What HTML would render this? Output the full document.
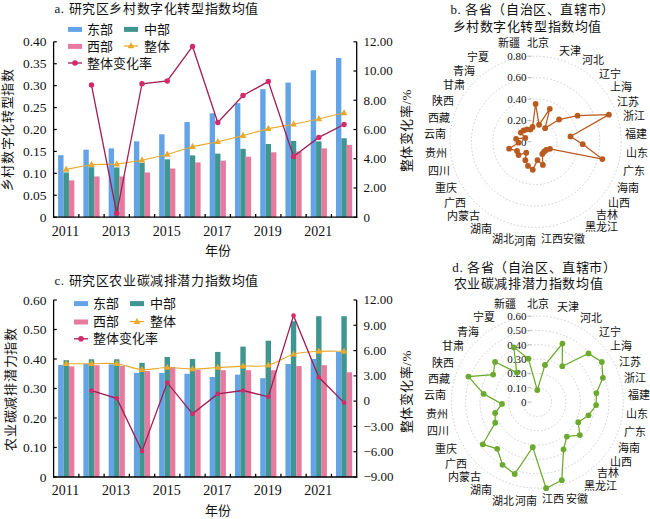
<!DOCTYPE html>
<html lang="zh-CN"><head><meta charset="utf-8"><style>
html,body{margin:0;padding:0;background:#fff;}
body{width:650px;height:519px;overflow:hidden;}
svg{display:block;}
text{font-family:"Liberation Serif",serif;fill:#111;}
</style></head><body>
<svg width="650" height="519" viewBox="0 0 650 519">
<rect x="58.13" y="155.15" width="5.40" height="62.05" fill="#63A3E6"/>
<rect x="63.53" y="172.47" width="5.40" height="44.73" fill="#3F958F"/>
<rect x="68.93" y="180.37" width="5.40" height="36.83" fill="#E67A9F"/>
<rect x="83.39" y="149.67" width="5.40" height="67.53" fill="#63A3E6"/>
<rect x="88.79" y="167.21" width="5.40" height="49.99" fill="#3F958F"/>
<rect x="94.19" y="176.42" width="5.40" height="40.78" fill="#E67A9F"/>
<rect x="108.65" y="148.36" width="5.40" height="68.84" fill="#63A3E6"/>
<rect x="114.05" y="167.43" width="5.40" height="49.77" fill="#3F958F"/>
<rect x="119.45" y="176.42" width="5.40" height="40.78" fill="#E67A9F"/>
<rect x="133.90" y="141.34" width="5.40" height="75.86" fill="#63A3E6"/>
<rect x="139.30" y="162.83" width="5.40" height="54.37" fill="#3F958F"/>
<rect x="144.70" y="172.47" width="5.40" height="44.73" fill="#E67A9F"/>
<rect x="159.16" y="134.32" width="5.40" height="82.88" fill="#63A3E6"/>
<rect x="164.56" y="159.32" width="5.40" height="57.88" fill="#3F958F"/>
<rect x="169.96" y="168.53" width="5.40" height="48.67" fill="#E67A9F"/>
<rect x="184.42" y="122.05" width="5.40" height="95.15" fill="#63A3E6"/>
<rect x="189.82" y="155.37" width="5.40" height="61.83" fill="#3F958F"/>
<rect x="195.22" y="162.39" width="5.40" height="54.81" fill="#E67A9F"/>
<rect x="209.68" y="113.28" width="5.40" height="103.92" fill="#63A3E6"/>
<rect x="215.08" y="153.62" width="5.40" height="63.58" fill="#3F958F"/>
<rect x="220.48" y="160.63" width="5.40" height="56.57" fill="#E67A9F"/>
<rect x="234.94" y="103.19" width="5.40" height="114.01" fill="#63A3E6"/>
<rect x="240.34" y="148.79" width="5.40" height="68.41" fill="#3F958F"/>
<rect x="245.74" y="156.69" width="5.40" height="60.51" fill="#E67A9F"/>
<rect x="260.20" y="89.16" width="5.40" height="128.04" fill="#63A3E6"/>
<rect x="265.60" y="143.97" width="5.40" height="73.23" fill="#3F958F"/>
<rect x="271.00" y="152.30" width="5.40" height="64.90" fill="#E67A9F"/>
<rect x="285.45" y="82.58" width="5.40" height="134.62" fill="#63A3E6"/>
<rect x="290.85" y="140.90" width="5.40" height="76.30" fill="#3F958F"/>
<rect x="296.25" y="151.43" width="5.40" height="65.77" fill="#E67A9F"/>
<rect x="310.71" y="70.30" width="5.40" height="146.90" fill="#63A3E6"/>
<rect x="316.11" y="141.34" width="5.40" height="75.86" fill="#3F958F"/>
<rect x="321.51" y="148.36" width="5.40" height="68.84" fill="#E67A9F"/>
<rect x="335.97" y="58.02" width="5.40" height="159.18" fill="#63A3E6"/>
<rect x="341.37" y="138.27" width="5.40" height="78.93" fill="#3F958F"/>
<rect x="346.77" y="144.85" width="5.40" height="72.35" fill="#E67A9F"/>
<line x1="53.60" y1="41.80" x2="53.60" y2="217.80" stroke="#000" stroke-width="1.3" />
<line x1="356.70" y1="41.80" x2="356.70" y2="217.80" stroke="#000" stroke-width="1.3" />
<line x1="53.00" y1="217.20" x2="357.30" y2="217.20" stroke="#000" stroke-width="1.3" />
<line x1="53.60" y1="41.80" x2="56.80" y2="41.80" stroke="#000" stroke-width="1.2" />
<text x="46.6" y="46.4" font-size="13.5" text-anchor="end" >0.40</text>
<line x1="53.60" y1="63.73" x2="56.80" y2="63.73" stroke="#000" stroke-width="1.2" />
<text x="46.6" y="68.3" font-size="13.5" text-anchor="end" >0.35</text>
<line x1="53.60" y1="85.65" x2="56.80" y2="85.65" stroke="#000" stroke-width="1.2" />
<text x="46.6" y="90.3" font-size="13.5" text-anchor="end" >0.30</text>
<line x1="53.60" y1="107.58" x2="56.80" y2="107.58" stroke="#000" stroke-width="1.2" />
<text x="46.6" y="112.2" font-size="13.5" text-anchor="end" >0.25</text>
<line x1="53.60" y1="129.50" x2="56.80" y2="129.50" stroke="#000" stroke-width="1.2" />
<text x="46.6" y="134.1" font-size="13.5" text-anchor="end" >0.20</text>
<line x1="53.60" y1="151.43" x2="56.80" y2="151.43" stroke="#000" stroke-width="1.2" />
<text x="46.6" y="156.0" font-size="13.5" text-anchor="end" >0.15</text>
<line x1="53.60" y1="173.35" x2="56.80" y2="173.35" stroke="#000" stroke-width="1.2" />
<text x="46.6" y="177.9" font-size="13.5" text-anchor="end" >0.10</text>
<line x1="53.60" y1="195.27" x2="56.80" y2="195.27" stroke="#000" stroke-width="1.2" />
<text x="46.6" y="199.9" font-size="13.5" text-anchor="end" >0.05</text>
<line x1="53.60" y1="217.20" x2="56.80" y2="217.20" stroke="#000" stroke-width="1.2" />
<text x="46.6" y="221.8" font-size="13.5" text-anchor="end" >0</text>
<line x1="353.50" y1="41.80" x2="356.70" y2="41.80" stroke="#000" stroke-width="1.2" />
<text x="363.5" y="46.1" font-size="13" text-anchor="start" >12.00</text>
<line x1="353.50" y1="71.03" x2="356.70" y2="71.03" stroke="#000" stroke-width="1.2" />
<text x="363.5" y="75.3" font-size="13" text-anchor="start" >10.00</text>
<line x1="353.50" y1="100.27" x2="356.70" y2="100.27" stroke="#000" stroke-width="1.2" />
<text x="363.5" y="104.6" font-size="13" text-anchor="start" >8.00</text>
<line x1="353.50" y1="129.50" x2="356.70" y2="129.50" stroke="#000" stroke-width="1.2" />
<text x="363.5" y="133.8" font-size="13" text-anchor="start" >6.00</text>
<line x1="353.50" y1="158.73" x2="356.70" y2="158.73" stroke="#000" stroke-width="1.2" />
<text x="363.5" y="163.0" font-size="13" text-anchor="start" >4.00</text>
<line x1="353.50" y1="187.97" x2="356.70" y2="187.97" stroke="#000" stroke-width="1.2" />
<text x="363.5" y="192.3" font-size="13" text-anchor="start" >2.00</text>
<line x1="353.50" y1="217.20" x2="356.70" y2="217.20" stroke="#000" stroke-width="1.2" />
<text x="363.5" y="221.5" font-size="13" text-anchor="start" >0</text>
<line x1="78.86" y1="214.00" x2="78.86" y2="217.20" stroke="#000" stroke-width="1.3" />
<line x1="104.12" y1="214.00" x2="104.12" y2="217.20" stroke="#000" stroke-width="1.3" />
<line x1="129.38" y1="214.00" x2="129.38" y2="217.20" stroke="#000" stroke-width="1.3" />
<line x1="154.63" y1="214.00" x2="154.63" y2="217.20" stroke="#000" stroke-width="1.3" />
<line x1="179.89" y1="214.00" x2="179.89" y2="217.20" stroke="#000" stroke-width="1.3" />
<line x1="205.15" y1="214.00" x2="205.15" y2="217.20" stroke="#000" stroke-width="1.3" />
<line x1="230.41" y1="214.00" x2="230.41" y2="217.20" stroke="#000" stroke-width="1.3" />
<line x1="255.67" y1="214.00" x2="255.67" y2="217.20" stroke="#000" stroke-width="1.3" />
<line x1="280.92" y1="214.00" x2="280.92" y2="217.20" stroke="#000" stroke-width="1.3" />
<line x1="306.18" y1="214.00" x2="306.18" y2="217.20" stroke="#000" stroke-width="1.3" />
<line x1="331.44" y1="214.00" x2="331.44" y2="217.20" stroke="#000" stroke-width="1.3" />
<text x="65.6" y="235.5" font-size="14" text-anchor="middle" >2011</text>
<text x="116.1" y="235.5" font-size="14" text-anchor="middle" >2013</text>
<text x="166.7" y="235.5" font-size="14" text-anchor="middle" >2015</text>
<text x="217.2" y="235.5" font-size="14" text-anchor="middle" >2017</text>
<text x="267.7" y="235.5" font-size="14" text-anchor="middle" >2019</text>
<text x="318.2" y="235.5" font-size="14" text-anchor="middle" >2021</text>
<text x="217.7" y="255.0" font-size="13" text-anchor="middle" >年份</text>
<polyline points="66.23,169.40 91.49,164.58 116.75,164.14 142.00,160.19 167.26,154.49 192.52,146.60 217.78,141.78 243.04,135.64 268.30,128.62 293.55,124.24 318.81,118.98 344.07,112.84" fill="none" stroke="#E9AA2B" stroke-width="1.1"/>
<path d="M62.93,171.70 L69.53,171.70 L66.23,165.50 Z" fill="#E9AA2B"/>
<path d="M88.19,166.88 L94.79,166.88 L91.49,160.68 Z" fill="#E9AA2B"/>
<path d="M113.45,166.44 L120.05,166.44 L116.75,160.24 Z" fill="#E9AA2B"/>
<path d="M138.70,162.50 L145.30,162.50 L142.00,156.29 Z" fill="#E9AA2B"/>
<path d="M163.96,156.79 L170.56,156.79 L167.26,150.59 Z" fill="#E9AA2B"/>
<path d="M189.22,148.90 L195.82,148.90 L192.52,142.70 Z" fill="#E9AA2B"/>
<path d="M214.48,144.08 L221.08,144.08 L217.78,137.88 Z" fill="#E9AA2B"/>
<path d="M239.74,137.94 L246.34,137.94 L243.04,131.74 Z" fill="#E9AA2B"/>
<path d="M265.00,130.92 L271.60,130.92 L268.30,124.72 Z" fill="#E9AA2B"/>
<path d="M290.25,126.54 L296.85,126.54 L293.55,120.34 Z" fill="#E9AA2B"/>
<path d="M315.51,121.28 L322.11,121.28 L318.81,115.08 Z" fill="#E9AA2B"/>
<path d="M340.77,115.14 L347.37,115.14 L344.07,108.94 Z" fill="#E9AA2B"/>
<polyline points="91.49,85.07 116.75,213.25 142.00,83.75 167.26,80.97 192.52,46.48 217.78,122.48 243.04,95.44 268.30,81.56 293.55,156.54 318.81,137.39 344.07,124.53" fill="none" stroke="#A01E55" stroke-width="1.3"/>
<circle cx="91.49" cy="85.07" r="2.7" fill="#D42A6A"/>
<circle cx="116.75" cy="213.25" r="2.7" fill="#D42A6A"/>
<circle cx="142.00" cy="83.75" r="2.7" fill="#D42A6A"/>
<circle cx="167.26" cy="80.97" r="2.7" fill="#D42A6A"/>
<circle cx="192.52" cy="46.48" r="2.7" fill="#D42A6A"/>
<circle cx="217.78" cy="122.48" r="2.7" fill="#D42A6A"/>
<circle cx="243.04" cy="95.44" r="2.7" fill="#D42A6A"/>
<circle cx="268.30" cy="81.56" r="2.7" fill="#D42A6A"/>
<circle cx="293.55" cy="156.54" r="2.7" fill="#D42A6A"/>
<circle cx="318.81" cy="137.39" r="2.7" fill="#D42A6A"/>
<circle cx="344.07" cy="124.53" r="2.7" fill="#D42A6A"/>
<text x="54.5" y="13.0" font-size="13" text-anchor="start" letter-spacing="0.6">a. 研究区乡村数字化转型指数均值</text>
<rect x="68.00" y="26.90" width="14.00" height="5.00" fill="#63A3E6"/>
<text x="87.0" y="33.5" font-size="13" text-anchor="start" >东部</text>
<rect x="124.00" y="26.90" width="14.00" height="5.00" fill="#3F958F"/>
<text x="144.0" y="33.5" font-size="13" text-anchor="start" >中部</text>
<rect x="68.00" y="43.90" width="14.00" height="5.00" fill="#E67A9F"/>
<text x="87.0" y="50.5" font-size="13" text-anchor="start" >西部</text>
<line x1="124.00" y1="46.00" x2="138.00" y2="46.00" stroke="#E9AA2B" stroke-width="1.3" />
<path d="M127.70,48.30 L134.30,48.30 L131.00,42.10 Z" fill="#E9AA2B"/>
<text x="144.0" y="50.5" font-size="13" text-anchor="start" >整体</text>
<line x1="68.00" y1="63.00" x2="82.00" y2="63.00" stroke="#A01E55" stroke-width="1.3" />
<circle cx="75.00" cy="63.00" r="2.8" fill="#D42A6A"/>
<text x="87.0" y="67.5" font-size="13" text-anchor="start" >整体变化率</text>
<text x="0" y="0" font-size="13" letter-spacing="0.7" text-anchor="middle" transform="translate(11.7,129.8) rotate(-90)">乡村数字化转型指数</text>
<text x="0" y="0" font-size="13" letter-spacing="0.5" text-anchor="middle" transform="translate(411,130.6) rotate(-90)">整体变化率/%</text>
<rect x="58.13" y="364.90" width="5.40" height="112.10" fill="#63A3E6"/>
<rect x="63.53" y="360.18" width="5.40" height="116.82" fill="#3F958F"/>
<rect x="68.93" y="366.38" width="5.40" height="110.62" fill="#E67A9F"/>
<rect x="83.39" y="363.72" width="5.40" height="113.28" fill="#63A3E6"/>
<rect x="88.79" y="359.29" width="5.40" height="117.71" fill="#3F958F"/>
<rect x="94.19" y="365.19" width="5.40" height="111.81" fill="#E67A9F"/>
<rect x="108.65" y="364.31" width="5.40" height="112.69" fill="#63A3E6"/>
<rect x="114.05" y="359.29" width="5.40" height="117.71" fill="#3F958F"/>
<rect x="119.45" y="365.78" width="5.40" height="111.22" fill="#E67A9F"/>
<rect x="133.90" y="372.87" width="5.40" height="104.13" fill="#63A3E6"/>
<rect x="139.30" y="362.83" width="5.40" height="114.17" fill="#3F958F"/>
<rect x="144.70" y="371.09" width="5.40" height="105.91" fill="#E67A9F"/>
<rect x="159.16" y="372.87" width="5.40" height="104.13" fill="#63A3E6"/>
<rect x="164.56" y="356.94" width="5.40" height="120.06" fill="#3F958F"/>
<rect x="169.96" y="366.96" width="5.40" height="110.04" fill="#E67A9F"/>
<rect x="184.42" y="373.75" width="5.40" height="103.25" fill="#63A3E6"/>
<rect x="189.82" y="359.00" width="5.40" height="118.00" fill="#3F958F"/>
<rect x="195.22" y="369.62" width="5.40" height="107.38" fill="#E67A9F"/>
<rect x="209.68" y="377.00" width="5.40" height="100.00" fill="#63A3E6"/>
<rect x="215.08" y="351.92" width="5.40" height="125.08" fill="#3F958F"/>
<rect x="220.48" y="370.21" width="5.40" height="106.79" fill="#E67A9F"/>
<rect x="234.94" y="374.63" width="5.40" height="102.37" fill="#63A3E6"/>
<rect x="240.34" y="346.61" width="5.40" height="130.39" fill="#3F958F"/>
<rect x="245.74" y="370.21" width="5.40" height="106.79" fill="#E67A9F"/>
<rect x="260.20" y="378.18" width="5.40" height="98.82" fill="#63A3E6"/>
<rect x="265.60" y="340.71" width="5.40" height="136.29" fill="#3F958F"/>
<rect x="271.00" y="370.21" width="5.40" height="106.79" fill="#E67A9F"/>
<rect x="285.45" y="364.01" width="5.40" height="112.99" fill="#63A3E6"/>
<rect x="290.85" y="321.24" width="5.40" height="155.76" fill="#3F958F"/>
<rect x="296.25" y="366.08" width="5.40" height="110.92" fill="#E67A9F"/>
<rect x="310.71" y="359.00" width="5.40" height="118.00" fill="#63A3E6"/>
<rect x="316.11" y="316.23" width="5.40" height="160.77" fill="#3F958F"/>
<rect x="321.51" y="365.19" width="5.40" height="111.81" fill="#E67A9F"/>
<rect x="335.97" y="351.92" width="5.40" height="125.08" fill="#63A3E6"/>
<rect x="341.37" y="316.23" width="5.40" height="160.77" fill="#3F958F"/>
<rect x="346.77" y="372.27" width="5.40" height="104.73" fill="#E67A9F"/>
<line x1="53.60" y1="300.00" x2="53.60" y2="477.60" stroke="#000" stroke-width="1.3" />
<line x1="356.70" y1="300.00" x2="356.70" y2="477.60" stroke="#000" stroke-width="1.3" />
<line x1="53.00" y1="477.00" x2="357.30" y2="477.00" stroke="#000" stroke-width="1.3" />
<line x1="53.60" y1="300.00" x2="56.80" y2="300.00" stroke="#000" stroke-width="1.2" />
<text x="46.6" y="304.6" font-size="13.5" text-anchor="end" >0.60</text>
<line x1="53.60" y1="329.50" x2="56.80" y2="329.50" stroke="#000" stroke-width="1.2" />
<text x="46.6" y="334.1" font-size="13.5" text-anchor="end" >0.50</text>
<line x1="53.60" y1="359.00" x2="56.80" y2="359.00" stroke="#000" stroke-width="1.2" />
<text x="46.6" y="363.6" font-size="13.5" text-anchor="end" >0.40</text>
<line x1="53.60" y1="388.50" x2="56.80" y2="388.50" stroke="#000" stroke-width="1.2" />
<text x="46.6" y="393.1" font-size="13.5" text-anchor="end" >0.30</text>
<line x1="53.60" y1="418.00" x2="56.80" y2="418.00" stroke="#000" stroke-width="1.2" />
<text x="46.6" y="422.6" font-size="13.5" text-anchor="end" >0.20</text>
<line x1="53.60" y1="447.50" x2="56.80" y2="447.50" stroke="#000" stroke-width="1.2" />
<text x="46.6" y="452.1" font-size="13.5" text-anchor="end" >0.10</text>
<line x1="53.60" y1="477.00" x2="56.80" y2="477.00" stroke="#000" stroke-width="1.2" />
<text x="46.6" y="481.6" font-size="13.5" text-anchor="end" >0</text>
<line x1="353.50" y1="300.00" x2="356.70" y2="300.00" stroke="#000" stroke-width="1.2" />
<text x="363.5" y="304.3" font-size="13" text-anchor="start" >12.00</text>
<line x1="353.50" y1="325.29" x2="356.70" y2="325.29" stroke="#000" stroke-width="1.2" />
<text x="363.5" y="329.6" font-size="13" text-anchor="start" >9.00</text>
<line x1="353.50" y1="350.57" x2="356.70" y2="350.57" stroke="#000" stroke-width="1.2" />
<text x="363.5" y="354.9" font-size="13" text-anchor="start" >6.00</text>
<line x1="353.50" y1="375.86" x2="356.70" y2="375.86" stroke="#000" stroke-width="1.2" />
<text x="363.5" y="380.2" font-size="13" text-anchor="start" >3.00</text>
<line x1="353.50" y1="401.14" x2="356.70" y2="401.14" stroke="#000" stroke-width="1.2" />
<text x="363.5" y="405.4" font-size="13" text-anchor="start" >0</text>
<line x1="353.50" y1="426.43" x2="356.70" y2="426.43" stroke="#000" stroke-width="1.2" />
<text x="363.5" y="430.7" font-size="13" text-anchor="start" >−3.00</text>
<line x1="353.50" y1="451.71" x2="356.70" y2="451.71" stroke="#000" stroke-width="1.2" />
<text x="363.5" y="456.0" font-size="13" text-anchor="start" >−6.00</text>
<line x1="353.50" y1="477.00" x2="356.70" y2="477.00" stroke="#000" stroke-width="1.2" />
<text x="363.5" y="481.3" font-size="13" text-anchor="start" >−9.00</text>
<line x1="78.86" y1="473.80" x2="78.86" y2="477.00" stroke="#000" stroke-width="1.3" />
<line x1="104.12" y1="473.80" x2="104.12" y2="477.00" stroke="#000" stroke-width="1.3" />
<line x1="129.38" y1="473.80" x2="129.38" y2="477.00" stroke="#000" stroke-width="1.3" />
<line x1="154.63" y1="473.80" x2="154.63" y2="477.00" stroke="#000" stroke-width="1.3" />
<line x1="179.89" y1="473.80" x2="179.89" y2="477.00" stroke="#000" stroke-width="1.3" />
<line x1="205.15" y1="473.80" x2="205.15" y2="477.00" stroke="#000" stroke-width="1.3" />
<line x1="230.41" y1="473.80" x2="230.41" y2="477.00" stroke="#000" stroke-width="1.3" />
<line x1="255.67" y1="473.80" x2="255.67" y2="477.00" stroke="#000" stroke-width="1.3" />
<line x1="280.92" y1="473.80" x2="280.92" y2="477.00" stroke="#000" stroke-width="1.3" />
<line x1="306.18" y1="473.80" x2="306.18" y2="477.00" stroke="#000" stroke-width="1.3" />
<line x1="331.44" y1="473.80" x2="331.44" y2="477.00" stroke="#000" stroke-width="1.3" />
<text x="65.6" y="495.3" font-size="14" text-anchor="middle" >2011</text>
<text x="116.1" y="495.3" font-size="14" text-anchor="middle" >2013</text>
<text x="166.7" y="495.3" font-size="14" text-anchor="middle" >2015</text>
<text x="217.2" y="495.3" font-size="14" text-anchor="middle" >2017</text>
<text x="267.7" y="495.3" font-size="14" text-anchor="middle" >2019</text>
<text x="318.2" y="495.3" font-size="14" text-anchor="middle" >2021</text>
<text x="217.7" y="514.5" font-size="13" text-anchor="middle" >年份</text>
<path d="M66.23,363.72 C70.44,363.72 83.07,363.72 91.49,363.72 C99.91,363.72 108.33,362.74 116.75,363.72 C125.17,364.70 133.58,368.98 142.00,369.62 C150.42,370.26 158.84,367.65 167.26,367.56 C175.68,367.46 184.10,369.03 192.52,369.03 C200.94,369.03 209.36,368.05 217.78,367.56 C226.20,367.06 234.62,366.47 243.04,366.08 C251.46,365.69 259.88,367.16 268.30,365.19 C276.72,363.23 285.13,356.59 293.55,354.28 C301.97,351.97 310.39,351.82 318.81,351.33 C327.23,350.84 339.86,351.33 344.07,351.33" fill="none" stroke="#E9AA2B" stroke-width="1.1"/>
<path d="M62.93,366.02 L69.53,366.02 L66.23,359.82 Z" fill="#E9AA2B"/>
<path d="M88.19,366.02 L94.79,366.02 L91.49,359.82 Z" fill="#E9AA2B"/>
<path d="M113.45,366.02 L120.05,366.02 L116.75,359.82 Z" fill="#E9AA2B"/>
<path d="M138.70,371.92 L145.30,371.92 L142.00,365.72 Z" fill="#E9AA2B"/>
<path d="M163.96,369.86 L170.56,369.86 L167.26,363.66 Z" fill="#E9AA2B"/>
<path d="M189.22,371.33 L195.82,371.33 L192.52,365.13 Z" fill="#E9AA2B"/>
<path d="M214.48,369.86 L221.08,369.86 L217.78,363.66 Z" fill="#E9AA2B"/>
<path d="M239.74,368.38 L246.34,368.38 L243.04,362.18 Z" fill="#E9AA2B"/>
<path d="M265.00,367.50 L271.60,367.50 L268.30,361.30 Z" fill="#E9AA2B"/>
<path d="M290.25,356.58 L296.85,356.58 L293.55,350.38 Z" fill="#E9AA2B"/>
<path d="M315.51,353.63 L322.11,353.63 L318.81,347.43 Z" fill="#E9AA2B"/>
<path d="M340.77,353.63 L347.37,353.63 L344.07,347.43 Z" fill="#E9AA2B"/>
<polyline points="91.49,390.69 116.75,398.36 142.00,451.12 167.26,382.68 192.52,413.79 217.78,393.89 243.04,390.52 268.30,396.76 293.55,315.68 318.81,377.29 344.07,402.66" fill="none" stroke="#A01E55" stroke-width="1.3"/>
<circle cx="91.49" cy="390.69" r="2.35" fill="#D42A6A"/>
<circle cx="116.75" cy="398.36" r="2.35" fill="#D42A6A"/>
<circle cx="142.00" cy="451.12" r="2.35" fill="#D42A6A"/>
<circle cx="167.26" cy="382.68" r="2.35" fill="#D42A6A"/>
<circle cx="192.52" cy="413.79" r="2.35" fill="#D42A6A"/>
<circle cx="217.78" cy="393.89" r="2.35" fill="#D42A6A"/>
<circle cx="243.04" cy="390.52" r="2.35" fill="#D42A6A"/>
<circle cx="268.30" cy="396.76" r="2.35" fill="#D42A6A"/>
<circle cx="293.55" cy="315.68" r="2.35" fill="#D42A6A"/>
<circle cx="318.81" cy="377.29" r="2.35" fill="#D42A6A"/>
<circle cx="344.07" cy="402.66" r="2.35" fill="#D42A6A"/>
<text x="54.5" y="285.0" font-size="13" text-anchor="start" letter-spacing="0.6">c. 研究区农业碳减排潜力指数均值</text>
<rect x="74.00" y="301.10" width="14.00" height="5.00" fill="#63A3E6"/>
<text x="93.0" y="307.7" font-size="13" text-anchor="start" >东部</text>
<rect x="130.00" y="301.10" width="14.00" height="5.00" fill="#3F958F"/>
<text x="150.0" y="307.7" font-size="13" text-anchor="start" >中部</text>
<rect x="74.00" y="319.50" width="14.00" height="5.00" fill="#E67A9F"/>
<text x="93.0" y="326.1" font-size="13" text-anchor="start" >西部</text>
<line x1="130.00" y1="321.60" x2="144.00" y2="321.60" stroke="#E9AA2B" stroke-width="1.3" />
<path d="M133.70,323.90 L140.30,323.90 L137.00,317.70 Z" fill="#E9AA2B"/>
<text x="150.0" y="326.1" font-size="13" text-anchor="start" >整体</text>
<line x1="74.00" y1="338.80" x2="88.00" y2="338.80" stroke="#A01E55" stroke-width="1.3" />
<circle cx="81.00" cy="338.80" r="2.8" fill="#D42A6A"/>
<text x="93.0" y="343.3" font-size="13" text-anchor="start" >整体变化率</text>
<text x="0" y="0" font-size="13" letter-spacing="0.7" text-anchor="middle" transform="translate(15.4,389.0) rotate(-90)">农业碳减排潜力指数</text>
<text x="0" y="0" font-size="13" letter-spacing="0.5" text-anchor="middle" transform="translate(411,391.7) rotate(-90)">整体变化率/%</text>
<circle cx="535.6" cy="141.8" r="21.40" fill="none" stroke="#C8C8C8" stroke-width="0.9" stroke-dasharray="1.6,2"/>
<circle cx="535.6" cy="141.8" r="42.80" fill="none" stroke="#C8C8C8" stroke-width="0.9" stroke-dasharray="1.6,2"/>
<circle cx="535.6" cy="141.8" r="64.20" fill="none" stroke="#C8C8C8" stroke-width="0.9" stroke-dasharray="1.6,2"/>
<circle cx="535.6" cy="141.8" r="85.60" fill="none" stroke="#C8C8C8" stroke-width="0.9" stroke-dasharray="1.6,2"/>
<line x1="527.50" y1="141.80" x2="531.50" y2="141.80" stroke="#BBBBBB" stroke-width="1" />
<text x="526.5" y="145.5" font-size="11" text-anchor="end" >0</text>
<line x1="527.50" y1="120.40" x2="531.50" y2="120.40" stroke="#BBBBBB" stroke-width="1" />
<text x="526.5" y="124.1" font-size="11" text-anchor="end" >0.20</text>
<line x1="527.50" y1="99.00" x2="531.50" y2="99.00" stroke="#BBBBBB" stroke-width="1" />
<text x="526.5" y="102.7" font-size="11" text-anchor="end" >0.40</text>
<line x1="527.50" y1="77.60" x2="531.50" y2="77.60" stroke="#BBBBBB" stroke-width="1" />
<text x="526.5" y="81.3" font-size="11" text-anchor="end" >0.60</text>
<line x1="527.50" y1="56.20" x2="531.50" y2="56.20" stroke="#BBBBBB" stroke-width="1" />
<text x="526.5" y="59.9" font-size="11" text-anchor="end" >0.80</text>
<polygon points="535.60,103.89 539.10,124.77 549.77,108.79 545.11,128.14 559.04,119.52 577.56,115.65 608.88,114.66 570.49,136.45 582.69,144.19 602.40,159.10 550.02,148.87 546.20,150.00 544.07,151.66 542.31,153.89 542.87,164.97 537.46,160.12 532.76,169.76 528.03,165.93 525.35,160.26 526.22,152.73 518.52,155.02 517.05,150.90 509.13,148.65 518.50,142.67 516.13,138.82 525.31,137.99 520.83,132.59 523.61,130.40 526.91,129.31 530.36,129.59 532.55,126.98" fill="none" stroke="#BA5A1E" stroke-width="1.25"/>
<circle cx="535.60" cy="103.89" r="2.9" fill="#BA5A1E"/>
<circle cx="539.10" cy="124.77" r="2.9" fill="#BA5A1E"/>
<circle cx="549.77" cy="108.79" r="2.9" fill="#BA5A1E"/>
<circle cx="545.11" cy="128.14" r="2.9" fill="#BA5A1E"/>
<circle cx="559.04" cy="119.52" r="2.9" fill="#BA5A1E"/>
<circle cx="577.56" cy="115.65" r="2.9" fill="#BA5A1E"/>
<circle cx="608.88" cy="114.66" r="2.9" fill="#BA5A1E"/>
<circle cx="570.49" cy="136.45" r="2.9" fill="#BA5A1E"/>
<circle cx="582.69" cy="144.19" r="2.9" fill="#BA5A1E"/>
<circle cx="602.40" cy="159.10" r="2.9" fill="#BA5A1E"/>
<circle cx="550.02" cy="148.87" r="2.9" fill="#BA5A1E"/>
<circle cx="546.20" cy="150.00" r="2.9" fill="#BA5A1E"/>
<circle cx="544.07" cy="151.66" r="2.9" fill="#BA5A1E"/>
<circle cx="542.31" cy="153.89" r="2.9" fill="#BA5A1E"/>
<circle cx="542.87" cy="164.97" r="2.9" fill="#BA5A1E"/>
<circle cx="537.46" cy="160.12" r="2.9" fill="#BA5A1E"/>
<circle cx="532.76" cy="169.76" r="2.9" fill="#BA5A1E"/>
<circle cx="528.03" cy="165.93" r="2.9" fill="#BA5A1E"/>
<circle cx="525.35" cy="160.26" r="2.9" fill="#BA5A1E"/>
<circle cx="526.22" cy="152.73" r="2.9" fill="#BA5A1E"/>
<circle cx="518.52" cy="155.02" r="2.9" fill="#BA5A1E"/>
<circle cx="517.05" cy="150.90" r="2.9" fill="#BA5A1E"/>
<circle cx="509.13" cy="148.65" r="2.9" fill="#BA5A1E"/>
<circle cx="518.50" cy="142.67" r="2.9" fill="#BA5A1E"/>
<circle cx="516.13" cy="138.82" r="2.9" fill="#BA5A1E"/>
<circle cx="525.31" cy="137.99" r="2.9" fill="#BA5A1E"/>
<circle cx="520.83" cy="132.59" r="2.9" fill="#BA5A1E"/>
<circle cx="523.61" cy="130.40" r="2.9" fill="#BA5A1E"/>
<circle cx="526.91" cy="129.31" r="2.9" fill="#BA5A1E"/>
<circle cx="530.36" cy="129.59" r="2.9" fill="#BA5A1E"/>
<circle cx="532.55" cy="126.98" r="2.9" fill="#BA5A1E"/>
<text x="537.7" y="46.6" font-size="11" text-anchor="middle" >北京</text>
<text x="569.5" y="55.3" font-size="11" text-anchor="middle" >天津</text>
<text x="593.0" y="64.3" font-size="11" text-anchor="middle" >河北</text>
<text x="609.7" y="78.0" font-size="11" text-anchor="middle" >辽宁</text>
<text x="620.8" y="90.8" font-size="11" text-anchor="middle" >上海</text>
<text x="627.7" y="105.6" font-size="11" text-anchor="middle" >江苏</text>
<text x="633.5" y="120.4" font-size="11" text-anchor="middle" >浙江</text>
<text x="636.2" y="137.9" font-size="11" text-anchor="middle" >福建</text>
<text x="636.7" y="157.4" font-size="11" text-anchor="middle" >山东</text>
<text x="634.0" y="174.6" font-size="11" text-anchor="middle" >广东</text>
<text x="627.7" y="192.4" font-size="11" text-anchor="middle" >海南</text>
<text x="618.7" y="207.3" font-size="11" text-anchor="middle" >山西</text>
<text x="606.5" y="218.8" font-size="11" text-anchor="middle" >吉林</text>
<text x="601.2" y="230.8" font-size="11" text-anchor="middle" >黑龙江</text>
<text x="574.2" y="242.9" font-size="11" text-anchor="middle" >安徽</text>
<text x="551.5" y="242.9" font-size="11" text-anchor="middle" >江西</text>
<text x="524.6" y="244.5" font-size="11" text-anchor="middle" >河南</text>
<text x="502.9" y="243.4" font-size="11" text-anchor="middle" >湖北</text>
<text x="480.7" y="233.4" font-size="11" text-anchor="middle" >湖南</text>
<text x="463.1" y="220.2" font-size="11" text-anchor="middle" >内蒙古</text>
<text x="455.2" y="207.4" font-size="11" text-anchor="middle" >广西</text>
<text x="445.7" y="191.6" font-size="11" text-anchor="middle" >重庆</text>
<text x="439.3" y="174.6" font-size="11" text-anchor="middle" >四川</text>
<text x="435.6" y="157.1" font-size="11" text-anchor="middle" >贵州</text>
<text x="435.0" y="138.4" font-size="11" text-anchor="middle" >云南</text>
<text x="438.8" y="121.5" font-size="11" text-anchor="middle" >西藏</text>
<text x="442.5" y="104.6" font-size="11" text-anchor="middle" >陕西</text>
<text x="453.6" y="88.7" font-size="11" text-anchor="middle" >甘肃</text>
<text x="464.2" y="74.9" font-size="11" text-anchor="middle" >青海</text>
<text x="477.8" y="61.2" font-size="11" text-anchor="middle" >宁夏</text>
<text x="509.3" y="46.8" font-size="11" text-anchor="middle" >新疆</text>
<text x="450.5" y="14.0" font-size="13" text-anchor="start" letter-spacing="0.6">b. 各省（自治区、直辖市）</text>
<text x="452.5" y="30.5" font-size="13" text-anchor="start" letter-spacing="0.6">乡村数字化转型指数均值</text>
<circle cx="537.3" cy="402.1" r="14.33" fill="none" stroke="#C8C8C8" stroke-width="0.9" stroke-dasharray="1.6,2"/>
<circle cx="537.3" cy="402.1" r="28.67" fill="none" stroke="#C8C8C8" stroke-width="0.9" stroke-dasharray="1.6,2"/>
<circle cx="537.3" cy="402.1" r="43.00" fill="none" stroke="#C8C8C8" stroke-width="0.9" stroke-dasharray="1.6,2"/>
<circle cx="537.3" cy="402.1" r="57.33" fill="none" stroke="#C8C8C8" stroke-width="0.9" stroke-dasharray="1.6,2"/>
<circle cx="537.3" cy="402.1" r="71.67" fill="none" stroke="#C8C8C8" stroke-width="0.9" stroke-dasharray="1.6,2"/>
<circle cx="537.3" cy="402.1" r="86.00" fill="none" stroke="#C8C8C8" stroke-width="0.9" stroke-dasharray="1.6,2"/>
<line x1="527.50" y1="402.10" x2="531.50" y2="402.10" stroke="#BBBBBB" stroke-width="1" />
<text x="526.5" y="405.8" font-size="11" text-anchor="end" >0</text>
<line x1="527.50" y1="387.77" x2="531.50" y2="387.77" stroke="#BBBBBB" stroke-width="1" />
<text x="526.5" y="391.5" font-size="11" text-anchor="end" >0.10</text>
<line x1="527.50" y1="373.43" x2="531.50" y2="373.43" stroke="#BBBBBB" stroke-width="1" />
<text x="526.5" y="377.1" font-size="11" text-anchor="end" >0.20</text>
<line x1="527.50" y1="359.10" x2="531.50" y2="359.10" stroke="#BBBBBB" stroke-width="1" />
<text x="526.5" y="362.8" font-size="11" text-anchor="end" >0.30</text>
<line x1="527.50" y1="344.77" x2="531.50" y2="344.77" stroke="#BBBBBB" stroke-width="1" />
<text x="526.5" y="348.5" font-size="11" text-anchor="end" >0.40</text>
<line x1="527.50" y1="330.43" x2="531.50" y2="330.43" stroke="#BBBBBB" stroke-width="1" />
<text x="526.5" y="334.1" font-size="11" text-anchor="end" >0.50</text>
<line x1="527.50" y1="316.10" x2="531.50" y2="316.10" stroke="#BBBBBB" stroke-width="1" />
<text x="526.5" y="319.8" font-size="11" text-anchor="end" >0.60</text>
<polygon points="537.30,390.09 544.93,364.98 562.42,343.57 562.28,366.21 588.53,353.40 601.81,361.89 602.88,377.81 596.38,393.05 596.12,405.08 588.51,415.36 578.30,422.21 579.85,435.04 566.88,436.56 563.53,449.36 561.81,480.22 546.06,488.27 532.72,447.15 514.73,474.02 502.51,464.78 497.23,448.78 482.79,444.30 495.22,422.74 495.14,413.01 501.98,403.89 483.68,393.89 468.47,376.61 493.17,374.59 495.06,361.95 516.75,372.57 513.80,347.34 528.37,358.63" fill="none" stroke="#6BAA2E" stroke-width="1.25"/>
<circle cx="537.30" cy="390.09" r="2.9" fill="#6BAA2E"/>
<circle cx="544.93" cy="364.98" r="2.9" fill="#6BAA2E"/>
<circle cx="562.42" cy="343.57" r="2.9" fill="#6BAA2E"/>
<circle cx="562.28" cy="366.21" r="2.9" fill="#6BAA2E"/>
<circle cx="588.53" cy="353.40" r="2.9" fill="#6BAA2E"/>
<circle cx="601.81" cy="361.89" r="2.9" fill="#6BAA2E"/>
<circle cx="602.88" cy="377.81" r="2.9" fill="#6BAA2E"/>
<circle cx="596.38" cy="393.05" r="2.9" fill="#6BAA2E"/>
<circle cx="596.12" cy="405.08" r="2.9" fill="#6BAA2E"/>
<circle cx="588.51" cy="415.36" r="2.9" fill="#6BAA2E"/>
<circle cx="578.30" cy="422.21" r="2.9" fill="#6BAA2E"/>
<circle cx="579.85" cy="435.04" r="2.9" fill="#6BAA2E"/>
<circle cx="566.88" cy="436.56" r="2.9" fill="#6BAA2E"/>
<circle cx="563.53" cy="449.36" r="2.9" fill="#6BAA2E"/>
<circle cx="561.81" cy="480.22" r="2.9" fill="#6BAA2E"/>
<circle cx="546.06" cy="488.27" r="2.9" fill="#6BAA2E"/>
<circle cx="532.72" cy="447.15" r="2.9" fill="#6BAA2E"/>
<circle cx="514.73" cy="474.02" r="2.9" fill="#6BAA2E"/>
<circle cx="502.51" cy="464.78" r="2.9" fill="#6BAA2E"/>
<circle cx="497.23" cy="448.78" r="2.9" fill="#6BAA2E"/>
<circle cx="482.79" cy="444.30" r="2.9" fill="#6BAA2E"/>
<circle cx="495.22" cy="422.74" r="2.9" fill="#6BAA2E"/>
<circle cx="495.14" cy="413.01" r="2.9" fill="#6BAA2E"/>
<circle cx="501.98" cy="403.89" r="2.9" fill="#6BAA2E"/>
<circle cx="483.68" cy="393.89" r="2.9" fill="#6BAA2E"/>
<circle cx="468.47" cy="376.61" r="2.9" fill="#6BAA2E"/>
<circle cx="493.17" cy="374.59" r="2.9" fill="#6BAA2E"/>
<circle cx="495.06" cy="361.95" r="2.9" fill="#6BAA2E"/>
<circle cx="516.75" cy="372.57" r="2.9" fill="#6BAA2E"/>
<circle cx="513.80" cy="347.34" r="2.9" fill="#6BAA2E"/>
<circle cx="528.37" cy="358.63" r="2.9" fill="#6BAA2E"/>
<text x="538.0" y="307.9" font-size="11" text-anchor="middle" >北京</text>
<text x="568.4" y="311.4" font-size="11" text-anchor="middle" >天津</text>
<text x="591.1" y="322.2" font-size="11" text-anchor="middle" >河北</text>
<text x="610.2" y="336.0" font-size="11" text-anchor="middle" >辽宁</text>
<text x="620.8" y="349.8" font-size="11" text-anchor="middle" >上海</text>
<text x="629.8" y="365.6" font-size="11" text-anchor="middle" >江苏</text>
<text x="634.6" y="381.5" font-size="11" text-anchor="middle" >浙江</text>
<text x="639.4" y="399.0" font-size="11" text-anchor="middle" >福建</text>
<text x="637.2" y="418.2" font-size="11" text-anchor="middle" >山东</text>
<text x="635.1" y="435.7" font-size="11" text-anchor="middle" >广东</text>
<text x="628.8" y="452.4" font-size="11" text-anchor="middle" >海南</text>
<text x="621.3" y="465.9" font-size="11" text-anchor="middle" >山西</text>
<text x="608.1" y="476.9" font-size="11" text-anchor="middle" >吉林</text>
<text x="600.2" y="489.7" font-size="11" text-anchor="middle" >黑龙江</text>
<text x="576.9" y="503.4" font-size="11" text-anchor="middle" >安徽</text>
<text x="552.5" y="503.4" font-size="11" text-anchor="middle" >江西</text>
<text x="526.2" y="505.1" font-size="11" text-anchor="middle" >河南</text>
<text x="503.2" y="505.1" font-size="11" text-anchor="middle" >湖北</text>
<text x="480.7" y="493.9" font-size="11" text-anchor="middle" >湖南</text>
<text x="464.2" y="481.2" font-size="11" text-anchor="middle" >内蒙古</text>
<text x="456.2" y="468.0" font-size="11" text-anchor="middle" >广西</text>
<text x="446.2" y="452.6" font-size="11" text-anchor="middle" >重庆</text>
<text x="438.3" y="435.1" font-size="11" text-anchor="middle" >四川</text>
<text x="437.2" y="418.2" font-size="11" text-anchor="middle" >贵州</text>
<text x="435.0" y="399.2" font-size="11" text-anchor="middle" >云南</text>
<text x="438.8" y="383.1" font-size="11" text-anchor="middle" >西藏</text>
<text x="443.0" y="366.7" font-size="11" text-anchor="middle" >陕西</text>
<text x="452.5" y="350.0" font-size="11" text-anchor="middle" >甘肃</text>
<text x="467.9" y="336.0" font-size="11" text-anchor="middle" >青海</text>
<text x="483.8" y="320.8" font-size="11" text-anchor="middle" >宁夏</text>
<text x="504.5" y="307.9" font-size="11" text-anchor="middle" >新疆</text>
<text x="452.3" y="272.0" font-size="13" text-anchor="start" letter-spacing="0.6">d. 各省（自治区、直辖市）</text>
<text x="453.6" y="288.0" font-size="13" text-anchor="start" letter-spacing="0.6">农业碳减排潜力指数均值</text>
</svg></body></html>
